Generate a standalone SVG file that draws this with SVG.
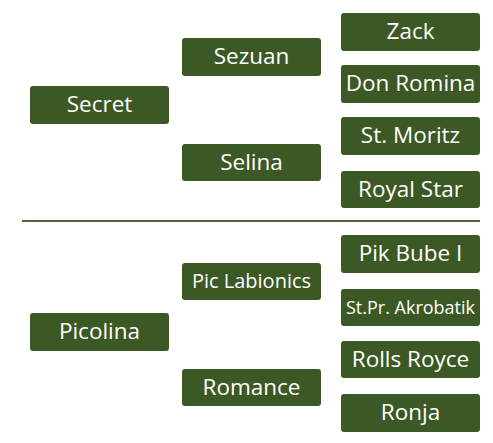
<svg xmlns="http://www.w3.org/2000/svg" width="493" height="443" viewBox="0 0 493 443">
<style>
.box{fill:#3c5824;}
.lbl{fill:#ffffff;font-family:"Open Sans","Noto Sans",sans-serif;font-size:22.5px;text-anchor:middle;}
</style>
<rect width="493" height="443" fill="#ffffff"/>
<g id="separator"><line x1="22" y1="221" x2="480" y2="221" stroke="#52623c" stroke-width="2"/></g>
<g id="connectors"></g>
<g id="secret"><rect class="box" x="30" y="86" width="139" height="38" rx="3"/><text class="lbl" x="99.5" y="112">Secret</text></g>
<g id="sezuan"><rect class="box" x="182" y="38" width="139" height="38" rx="3"/><text class="lbl" x="251.5" y="64">Sezuan</text></g>
<g id="selina"><rect class="box" x="182" y="144" width="139" height="37" rx="3"/><text class="lbl" x="251.5" y="169.5">Selina</text></g>
<g id="zack"><rect class="box" x="341" y="13" width="139" height="38" rx="3"/><text class="lbl" x="410.5" y="39">Zack</text></g>
<g id="don-romina"><rect class="box" x="341" y="65" width="139" height="38" rx="3"/><text class="lbl" x="410.5" y="91">Don Romina</text></g>
<g id="st-moritz"><rect class="box" x="341" y="117" width="139" height="38" rx="3"/><text class="lbl" x="410.5" y="143">St. Moritz</text></g>
<g id="royal-star"><rect class="box" x="341" y="171" width="139" height="37" rx="3"/><text class="lbl" x="410.5" y="196.5">Royal Star</text></g>
<g id="picolina"><rect class="box" x="30" y="313" width="139" height="38" rx="3"/><text class="lbl" x="99.5" y="339">Picolina</text></g>
<g id="pic-labionics"><rect class="box" x="182" y="263" width="139" height="37" rx="3"/><text class="lbl" x="251.5" y="288" style="font-size:20px">Pic Labionics</text></g>
<g id="romance"><rect class="box" x="182" y="369" width="139" height="37" rx="3"/><text class="lbl" x="251.5" y="394.5">Romance</text></g>
<g id="pik-bube-i"><rect class="box" x="341" y="235" width="139" height="38" rx="3"/><text class="lbl" x="410.5" y="261">Pik Bube I</text></g>
<g id="st-pr-akrobatik"><rect class="box" x="341" y="289" width="139" height="37" rx="3"/><text class="lbl" x="410.5" y="313.5" style="font-size:18px">St.Pr. Akrobatik</text></g>
<g id="rolls-royce"><rect class="box" x="341" y="341" width="139" height="37" rx="3"/><text class="lbl" x="410.5" y="366.5">Rolls Royce</text></g>
<g id="ronja"><rect class="box" x="341" y="394" width="139" height="38" rx="3"/><text class="lbl" x="410.5" y="420">Ronja</text></g>
</svg>
